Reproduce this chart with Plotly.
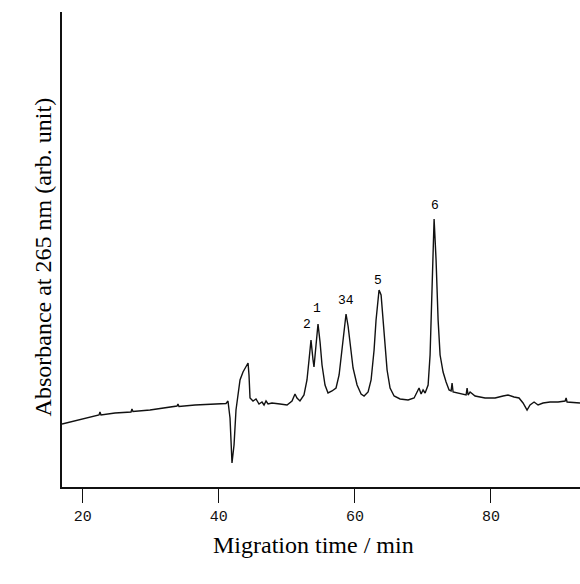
import plotly.graph_objects as go

# Migration time (min) and absorbance (arb. unit)
time_min = [16.96, 18.13, 19.60, 21.07, 22.40, 22.54, 22.69, 24.75, 27.10, 27.24,
            27.39, 29.89, 32.09, 33.86, 34.00, 34.15, 36.51, 38.27, 39.44, 41.06,
            41.35, 41.65, 41.94, 42.24, 42.53, 42.82, 43.12, 43.56, 44.00, 44.30,
            44.44, 44.59, 45.03, 45.47, 45.91, 46.35, 46.65, 46.94, 47.24, 47.82,
            49.00, 50.03, 50.76, 51.20, 51.49, 51.93, 52.52, 52.96, 53.26, 53.55,
            53.85, 53.99, 54.29, 54.58, 54.88, 55.17, 55.61, 56.05, 56.64, 57.23,
            57.68, 58.12, 58.41, 58.70, 59.00, 59.29, 59.73, 60.32, 60.91, 61.35,
            61.94, 62.38, 62.82, 63.11, 63.41, 63.55, 63.85, 64.14, 64.44, 64.73,
            65.17, 65.76, 66.64, 67.82, 68.70, 69.14, 69.43, 69.73, 70.02, 70.32,
            70.76, 71.05, 71.34, 71.64, 71.93, 72.23, 72.52, 72.96, 73.40, 73.84,
            74.14, 74.28, 74.43, 75.46, 76.34, 76.49, 76.63, 76.93, 77.66, 79.13,
            80.60, 81.77, 82.51, 83.39, 84.12, 84.71, 85.30, 85.74, 86.33, 86.92,
            87.65, 88.68, 89.86, 90.89, 91.04, 91.18, 92.36, 93.08]
absorbance = [0.63, 0.65, 0.67, 0.70, 0.72, 0.75, 0.72, 0.74, 0.75, 0.78,
              0.755, 0.77, 0.79, 0.81, 0.83, 0.805, 0.82, 0.825, 0.83, 0.835,
              0.86, 0.69, 0.24, 0.42, 0.77, 0.95, 1.07, 1.15, 1.21, 1.24,
              1.12, 0.89, 0.86, 0.88, 0.83, 0.85, 0.82, 0.86, 0.83, 0.84,
              0.83, 0.82, 0.86, 0.93, 0.89, 0.86, 0.92, 1.07, 1.27, 1.47,
              1.27, 1.20, 1.42, 1.63, 1.45, 1.22, 1.02, 0.94, 0.96, 0.99,
              1.12, 1.39, 1.59, 1.73, 1.61, 1.42, 1.19, 1.02, 0.93, 0.91,
              0.95, 1.07, 1.37, 1.67, 1.92, 1.97, 1.92, 1.69, 1.42, 1.17,
              0.99, 0.91, 0.88, 0.87, 0.89, 0.95, 0.99, 0.93, 0.97, 0.94,
              1.02, 1.32, 2.07, 2.68, 2.27, 1.67, 1.32, 1.15, 1.05, 0.97,
              0.96, 1.04, 0.95, 0.93, 0.92, 0.99, 0.92, 0.95, 0.91, 0.89,
              0.89, 0.91, 0.92, 0.90, 0.89, 0.84, 0.77, 0.82, 0.85, 0.82,
              0.84, 0.85, 0.85, 0.86, 0.89, 0.85, 0.84, 0.84]

peak_labels = ["2", "1", "34", "5", "6"]
peak_time = [52.96, 54.43, 58.70, 63.40, 71.77]
peak_abs = [1.63, 1.79, 1.87, 2.07, 2.82]

x_ticks = [20, 40, 60, 80]

fig = go.Figure()
fig.add_trace(go.Scatter(x=time_min, y=absorbance, mode="lines",
                         line=dict(color="#111111", width=1.4),
                         showlegend=False, hoverinfo="skip"))

for lab, t, a in zip(peak_labels, peak_time, peak_abs):
    fig.add_annotation(x=t, y=a, text=lab, showarrow=False,
                       font=dict(family="Liberation Mono", size=13, color="#000000"))

fig.add_annotation(xref="paper", yref="paper", x=-0.065, y=0.484,
                   text="Absorbance at 265 nm (arb. unit)", textangle=-90,
                   showarrow=False,
                   font=dict(family="Liberation Serif", size=24, color="#000000"))
fig.add_annotation(xref="paper", yref="paper", x=0.4846, y=-0.1537,
                   text="Migration time / min", showarrow=False,
                   font=dict(family="Liberation Serif", size=24, color="#000000"))

fig.update_layout(
    width=580, height=584,
    margin=dict(l=62, r=0, t=12, b=97),
    paper_bgcolor="white", plot_bgcolor="white",
    xaxis=dict(range=[16.96, 93.08], tickvals=x_ticks, ticks="outside",
               ticklen=14, tickwidth=1.3, tickcolor="#111111",
               showline=True, linecolor="#111111", linewidth=1.6,
               showgrid=False, zeroline=False,
               tickfont=dict(family="Liberation Mono", size=15, color="#111111")),
    yaxis=dict(range=[0, 4.75], showticklabels=False, ticks="",
               showline=True, linecolor="#111111", linewidth=1.6,
               showgrid=False, zeroline=False),
)

fig.write_html("out.html")
